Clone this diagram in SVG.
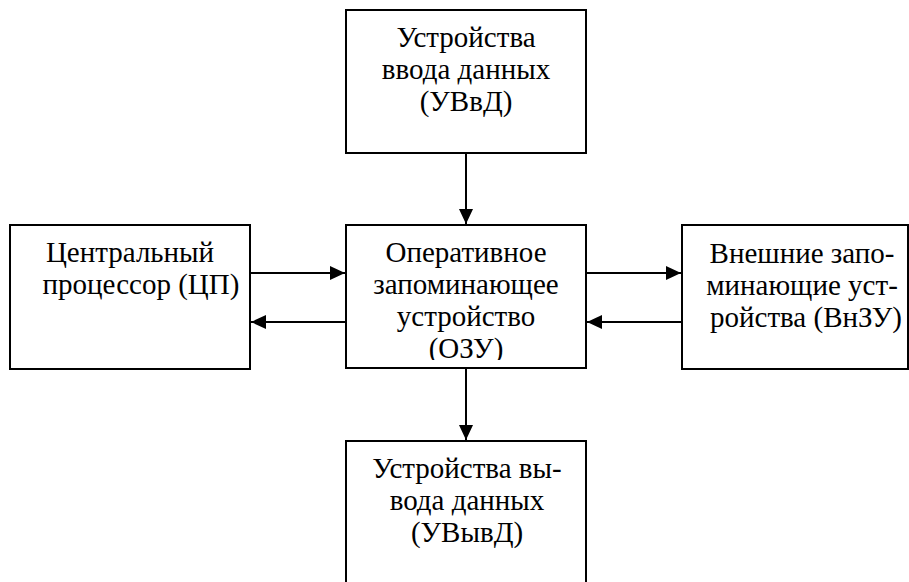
<svg xmlns="http://www.w3.org/2000/svg" width="909" height="582" viewBox="0 0 909 582" xml:lang="ru" font-family="Liberation Serif">
<style>
.box{fill:#fff;stroke:#000;stroke-width:2}
.c{stroke:#000;stroke-width:2;fill:none}
</style>
<defs>
<marker id="ah" viewBox="0 0 15 14" refX="15" refY="7" markerWidth="15" markerHeight="14" markerUnits="userSpaceOnUse" orient="auto">
<path d="M0,0 L15,7 L0,14 Z" fill="#000"/>
</marker>
<clipPath id="clipC"><rect x="346" y="225" width="240" height="135"/></clipPath>
</defs>
<rect width="909" height="582" fill="#fff"/>
<g id="uvvd">
<rect class="box" x="346" y="10" width="240" height="143"/>
<text font-family="Liberation Serif" font-size="29" text-anchor="middle" x="466" y="47">Устройства</text>
<text font-family="Liberation Serif" font-size="29" text-anchor="middle" x="466" y="79">ввода данных</text>
<text font-family="Liberation Serif" font-size="29" text-anchor="middle" x="466" y="111">(УВвД)</text>
</g>
<g id="cp">
<rect class="box" x="10" y="225" width="240" height="144"/>
<text font-family="Liberation Serif" font-size="29" text-anchor="middle" x="130" y="262">Центральный</text>
<text font-family="Liberation Serif" font-size="29" text-anchor="middle" x="141" y="294">процессор (ЦП)</text>
</g>
<g id="ozu">
<rect class="box" x="346" y="225" width="240" height="143"/>
<g clip-path="url(#clipC)">
<text font-family="Liberation Serif" font-size="29" text-anchor="middle" x="466" y="262">Оперативное</text>
<text font-family="Liberation Serif" font-size="29" text-anchor="middle" x="466" y="294">запоминающее</text>
<text font-family="Liberation Serif" font-size="29" text-anchor="middle" x="466" y="326">устройство</text>
<text font-family="Liberation Serif" font-size="29" text-anchor="middle" x="466" y="358">(ОЗУ)</text>
</g>
</g>
<g id="vnzu">
<rect class="box" x="682" y="225" width="226" height="144"/>
<text font-family="Liberation Serif" font-size="29" text-anchor="middle" x="802" y="263">Внешние запо-</text>
<text font-family="Liberation Serif" font-size="29" text-anchor="middle" x="802" y="295">минающие уст-</text>
<text font-family="Liberation Serif" font-size="29" text-anchor="middle" x="806" y="327">ройства (ВнЗУ)</text>
</g>
<g id="uvyvd">
<rect class="box" x="346" y="441" width="240" height="160"/>
<text font-family="Liberation Serif" font-size="29" text-anchor="middle" x="467" y="478">Устройства вы-</text>
<text font-family="Liberation Serif" font-size="29" text-anchor="middle" x="467" y="510">вода данных</text>
<text font-family="Liberation Serif" font-size="29" text-anchor="middle" x="467" y="542">(УВывД)</text>
</g>
<g id="connectors">
<line class="c" x1="466" y1="153" x2="466" y2="224" marker-end="url(#ah)"/>
<line class="c" x1="466" y1="368" x2="466" y2="440" marker-end="url(#ah)"/>
<line class="c" x1="250" y1="273" x2="345" y2="273" marker-end="url(#ah)"/>
<line class="c" x1="346" y1="322" x2="251" y2="322" marker-end="url(#ah)"/>
<line class="c" x1="586" y1="273" x2="681" y2="273" marker-end="url(#ah)"/>
<line class="c" x1="682" y1="322" x2="587" y2="322" marker-end="url(#ah)"/>
</g>
</svg>
